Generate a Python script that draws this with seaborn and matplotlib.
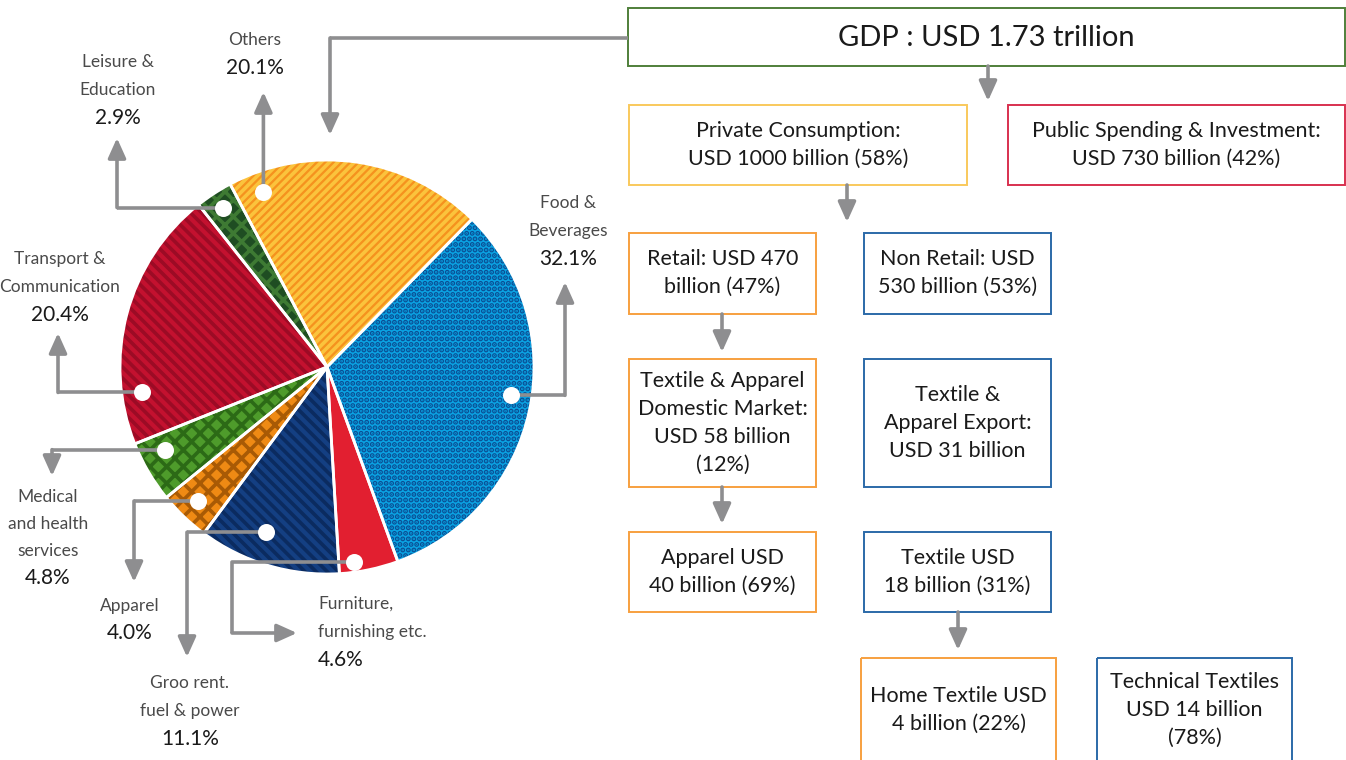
import numpy as np
import matplotlib
matplotlib.use("Agg")
import matplotlib.pyplot as plt
import seaborn as sns

# pie data (household spending shares, %)
categories = ["Food &\nBeverages", "Others", "Leisure &\nEducation", "Transport &\nCommunication",
              "Medical\nand health\nservices", "Apparel", "Groo rent.\nfuel & power",
              "Furniture,\nfurnishing etc."]
shares = [32.1, 20.1, 2.9, 20.4, 4.8, 4.0, 11.1, 4.6]
share_labels = ["32.1%", "20.1%", "2.9%", "20.4%", "4.8%", "4.0%", "11.1%", "4.6%"]

# flowchart texts
box_texts = [
    "GDP : USD 1.73 trillion",
    "Private Consumption:\nUSD 1000 billion (58%)",
    "Public Spending & Investment:\nUSD 730 billion (42%)",
    "Retail: USD 470\nbillion (47%)",
    "Non Retail: USD\n530 billion (53%)",
    "Textile & Apparel\nDomestic Market:\nUSD 58 billion\n(12%)",
    "Textile &\nApparel Export:\nUSD 31 billion",
    "Apparel USD\n40 billion (69%)",
    "Textile USD\n18 billion (31%)",
    "Home Textile USD\n4 billion (22%)",
    "Technical Textiles\nUSD 14 billion\n(78%)",
]

# ---- styling / layout ----
slice_colors = ["#0aa3e3", "#f5921e", "#1f4d22", "#c3112f", "#4e9b2b", "#ef8a14", "#143f82", "#e21f30"]
hatch_colors = ["#0b4f94", "#fbc33c", "#3e7a33", "#9c0b25", "#2c6a16", "#a85a05", "#0b2b60", "#e21f30"]
hatches = ["...", "////", "xx", "\\\\\\", "xx", "xx", "\\\\\\", ""]

box_pos = [  # x0, y0, x1, y1 in pixels (top-left origin)
    (628, 8, 1345, 66), (629, 105, 967, 185), (1008, 105, 1345, 185),
    (629, 233, 816, 314), (864, 233, 1051, 314), (629, 359, 816, 487),
    (864, 359, 1051, 487), (629, 532, 816, 612), (864, 532, 1051, 612),
    (861, 658, 1056, 800), (1097, 658, 1292, 800),
]
box_colors = ["#4f7f3a", "#f9c95c", "#d8304f", "#f7a03f", "#2b69a8", "#f7a03f",
              "#2b69a8", "#f7a03f", "#2b69a8", "#f7a03f", "#2b69a8"]
box_fs = [21, 15.5, 15.5, 15.5, 15.5, 15.5, 15.5, 15.5, 15.5, 15.5, 15.5]
box_text_y = [38, 145, 145, 273, 273, 423, 423, 572, 572, 710, 710]

# label anchors (x, y of first line, ha) and connector routes
label_pos = [(568, 203, "center"), (255, 40, "center"), (118, 62, "center"), (60, 259, "center"),
             (48, 497, "center"), (130, 606, "center"), (190, 683, "center"), (318, 604, "left")]
line_gap = [28, 28, 28, 28, 27, 27, 28, 28]
dot_frac = [0.53, 0.89, 0.5, 0.81, 0.3, 0.48, 0.41, 0.27]
dot_r = [0.9, 0.9, 0.92, 0.9, 0.88, 0.9, 0.85, 0.95]
routes = [[("h", 565), ("v", 282)], [("v", 92)], [("h", 117), ("v", 138)],
          [("h", 58), ("v", 333)], [("h", 52), ("v", 476)], [("h", 134), ("v", 582)],
          [("h", 187), ("v", 657)], [("h", 232), ("v", 633), ("h", 297)]]

W, H = 1346, 760
CX, CY, R = 327, 367, 207
ARROW = "#8e8e90"

sns.set_theme(style="white")
plt.rcParams["font.family"] = ["Lato", "DejaVu Sans"]
plt.rcParams["hatch.linewidth"] = 2.6

fig = plt.figure(figsize=(W / 100, H / 100), dpi=100)

ax_pie = fig.add_axes([(CX - R) / W, (H - CY - R) / H, 2 * R / W, 2 * R / H])
wedges, _ = ax_pie.pie(shares, colors=slice_colors, startangle=-70, counterclock=True,
                       radius=1, wedgeprops=dict(linewidth=0))
for w, hc, ht in zip(wedges, hatch_colors, hatches):
    w.set_hatch(ht)
    w.set_edgecolor(hc)
    w.set_linewidth(0)
ax_pie.pie(shares, colors=["none"] * len(shares), startangle=-70, counterclock=True, radius=1,
           wedgeprops=dict(linewidth=2, edgecolor="white", fill=False))
ax_pie.set_xlim(-1, 1)
ax_pie.set_ylim(-1, 1)
ax_pie.axis("off")

# overlay axes in pixel coordinates for callouts and the flowchart
ax = fig.add_axes([0, 0, 1, 1])
ax.patch.set_visible(False)
ax.set_xlim(0, W)
ax.set_ylim(H, 0)
ax.axis("off")


def draw_route(x, y, ops, zorder=3):
    pts = [(x, y)]
    for kind, val in ops:
        if kind == "h":
            x = val
        else:
            y = val
        pts.append((x, y))
    if len(pts) > 2:
        xs, ys = zip(*pts[:-1])
        ax.plot(xs, ys, color=ARROW, lw=2.6, solid_capstyle="butt", zorder=zorder)
    ax.annotate("", xy=pts[-1], xytext=pts[-2],
                arrowprops=dict(arrowstyle="-|>,head_length=1.0,head_width=0.45",
                                color=ARROW, lw=2.6, shrinkA=0, shrinkB=0), zorder=zorder)


# pie callouts
for i, w in enumerate(wedges):
    a = np.deg2rad(w.theta1 + dot_frac[i] * (w.theta2 - w.theta1))
    dx = CX + dot_r[i] * R * np.cos(a)
    dy = CY - dot_r[i] * R * np.sin(a)
    draw_route(dx, dy, routes[i])
    ax.scatter([dx], [dy], s=150, color="white", zorder=5, linewidths=0)
    lx, ly, ha = label_pos[i]
    lines = categories[i].split("\n")
    for k, line in enumerate(lines):
        ax.text(lx, ly + k * line_gap[i], line, ha=ha, va="center", fontsize=12.5,
                color="#4a4a4a")
    ax.text(lx, ly + len(lines) * line_gap[i], share_labels[i], ha=ha, va="center",
            fontsize=15, color="#1a1a1a")

# GDP connector into the pie
draw_route(628, 38, [("h", 330), ("v", 135)])

# flowchart boxes
for (x0, y0, x1, y1), txt, col, fs, ty in zip(box_pos, box_texts, box_colors, box_fs, box_text_y):
    ax.add_patch(plt.Rectangle((x0, y0), x1 - x0, y1 - y0, fill=False, edgecolor=col, lw=1.4,
                               zorder=2))
    ax.text((x0 + x1) / 2, ty, txt, ha="center", va="center", fontsize=fs, color="#1a1a1a",
            linespacing=1.5, zorder=3)

for x, y0, y1 in [(988, 66, 101), (847, 185, 222), (722, 314, 352), (722, 487, 524), (958, 612, 650)]:
    draw_route(x, y0, [("v", y1)])

fig.savefig("out.png", dpi=100)
